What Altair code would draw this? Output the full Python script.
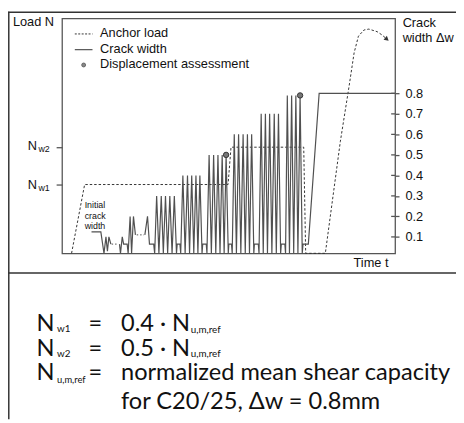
import altair as alt
import pandas as pd

# ---------------- data (schematic units) ----------------
# time t: schematic units 0..339 ; load: fraction of plot height ; crack width: mm
N_W1 = 0.293
N_W2 = 0.452

load_t = [9.7, 23, 169, 172, 246, 248, 268, 283.3, 292.3, 297.3, 301.7, 307.3, 312.3, 320.7, 325.7, 330.7]
load_v = [0, N_W1, N_W1, N_W2, N_W2, 0, 0, 0.477, 0.715, 0.854, 0.925, 0.951, 0.955, 0.944, 0.930, 0.912]

crack_seg_a = [(30, 0.125), (39.5, 0.125), (42.7, 0.02), (44.7, 0.1), (46.2, 0.03), (47.7, 0.1), (49.7, 0.065)]
crack_seg_b = [(58.5, 0.065), (59.5, 0.02), (61.3, 0.1), (62.7, 0.065), (66.3, 0.065), (67.3, 0.02),
               (69.3, 0.2), (70.8, 0.02), (72.7, 0.2), (74.7, 0.11)]
crack_seg_c = [(84.3, 0.11), (87, 0.2), (89, 0.065), (93.3, 0.065), (94.3, 0.02),
               (96.3, 0.3), (98.6, 0.02), (101, 0.3), (103.1, 0.02), (105.3, 0.3), (107.5, 0.02),
               (109.7, 0.3), (112, 0.02), (114.3, 0.3), (116.5, 0.02), (117.2, 0.065), (120, 0.065), (120.8, 0.02),
               (123, 0.4), (125.3, 0.02), (127.7, 0.4), (129.8, 0.02), (132, 0.4), (134.1, 0.02),
               (136.3, 0.4), (138.3, 0.02), (140.3, 0.4), (142.5, 0.02), (143.2, 0.065), (146.8, 0.065), (147.5, 0.02),
               (149.7, 0.5), (152, 0.02), (154.3, 0.5), (156.5, 0.02), (158.7, 0.5), (160.8, 0.02),
               (163, 0.5), (165, 0.02), (167, 0.5), (169.2, 0.02), (169.8, 0.065), (172.5, 0.065), (173.2, 0.02),
               (175.3, 0.6), (177.5, 0.02), (179.7, 0.6), (182, 0.02), (184.3, 0.6), (186.5, 0.02),
               (188.7, 0.6), (190.8, 0.02), (193, 0.6), (195.2, 0.02), (195.8, 0.065), (199.8, 0.065), (200.5, 0.02),
               (202.7, 0.7), (204.8, 0.02), (207, 0.7), (209.1, 0.02), (211.3, 0.7), (213.6, 0.02),
               (216, 0.7), (218.1, 0.02), (220.3, 0.7), (222.5, 0.02), (223.2, 0.065), (226.8, 0.065), (227.5, 0.02),
               (229.3, 0.79), (231.5, 0.02), (233.7, 0.79), (235.8, 0.02), (238, 0.79), (240.1, 0.02),
               (242.3, 0.79), (244.5, 0.02), (245.3, 0.065), (250.7, 0.065), (261.7, 0.8), (339, 0.8)]
crack_dots_1 = [(50.5, 0.065), (57.5, 0.065)]
crack_dots_2 = [(76, 0.11), (83.5, 0.11)]

assess_t = [167, 242.3]
assess_w = [0.5, 0.79]

crack_ticks = [0.1, 0.2, 0.3, 0.4, 0.5, 0.6, 0.7, 0.8]

# ---------------- tables ----------------
load_df = pd.DataFrame({"t": load_t, "load": load_v, "o": range(len(load_t))})


def seg_df(segs):
    rows = []
    for si, seg in enumerate(segs):
        for oi, (t, w) in enumerate(seg):
            rows.append({"t": t, "w": w, "seg": si, "o": oi})
    return pd.DataFrame(rows)


crack_df = seg_df([crack_seg_a, crack_seg_b, crack_seg_c])
dots_df = seg_df([crack_dots_1, crack_dots_2])
assess_df = pd.DataFrame({"t": assess_t, "w": assess_w})
arrow_df = pd.DataFrame({"t": [load_t[-1]], "load": [load_v[-1]]})
ticks_df = pd.DataFrame({"w": crack_ticks})

XS = alt.Scale(domain=[0, 339], nice=False)
LS = alt.Scale(domain=[0, 1], nice=False, zero=False)
CS = alt.Scale(domain=[0.02, 1.165], nice=False, zero=False)
GRAY = "#505050"
DARK = "#333333"
AX = "#555555"

anchor = alt.Chart(load_df).mark_line(color=DARK, strokeWidth=1, strokeDash=[2.5, 2]).encode(
    x=alt.X("t:Q", scale=XS, axis=None),
    y=alt.Y("load:Q", scale=LS, axis=alt.Axis(orient="left", values=[N_W1, N_W2], labels=False,
                                              title=None, domain=False, grid=False, tickSize=6,
                                              tickColor=AX, tickWidth=1.3)),
    order=alt.Order("o:Q"),
)

arrow = alt.Chart(arrow_df).mark_point(shape="triangle-right", filled=True, color=DARK, size=28,
                                       angle=40, opacity=1).encode(
    x=alt.X("t:Q", scale=XS, axis=None),
    y=alt.Y("load:Q", scale=LS, axis=None),
)

crack = alt.Chart(crack_df).mark_line(color=GRAY, strokeWidth=1.2).encode(
    x=alt.X("t:Q", scale=XS, axis=None),
    y=alt.Y("w:Q", scale=CS, axis=alt.Axis(orient="right", values=crack_ticks, format=".1f", title=None,
                                           domain=False, grid=False, tickSize=4, tickColor=AX,
                                           tickWidth=1.3, labelFont="Liberation Sans", labelFontSize=13,
                                           labelColor="#111", labelPadding=6)),
    detail="seg:N",
    order=alt.Order("o:Q"),
)

crack_dotted = alt.Chart(dots_df).mark_line(color=GRAY, strokeWidth=1, strokeDash=[1.5, 2]).encode(
    x=alt.X("t:Q", scale=XS, axis=None),
    y=alt.Y("w:Q", scale=CS, axis=None),
    detail="seg:N",
    order=alt.Order("o:Q"),
)

assess = alt.Chart(assess_df).mark_point(filled=True, fill="#777777", stroke=DARK, strokeWidth=1,
                                         size=30, opacity=1).encode(
    x=alt.X("t:Q", scale=XS, axis=None),
    y=alt.Y("w:Q", scale=CS, axis=None),
)

inner_ticks = alt.Chart(ticks_df).mark_rule(color=AX, strokeWidth=1.3).encode(
    x=alt.value(335), x2=alt.value(339),
    y=alt.Y("w:Q", scale=CS, axis=None),
)

# ---------------- annotation texts ----------------
chart_texts = pd.DataFrame([
    {"text": "Load N", "px": -50, "py": 7.7, "fs": 13},
    {"text": "Anchor load", "px": 38.7, "py": 19.3, "fs": 13},
    {"text": "Crack width", "px": 38.7, "py": 35, "fs": 13},
    {"text": "Displacement assessment", "px": 38.7, "py": 50.7, "fs": 13},
    {"text": "Crack", "px": 346.7, "py": 9, "fs": 13},
    {"text": "width \u0394w", "px": 346.7, "py": 24.3, "fs": 13},
    {"text": "Initial", "px": 23, "py": 193.3, "fs": 9},
    {"text": "crack", "px": 23, "py": 204.3, "fs": 9},
    {"text": "width", "px": 23, "py": 214.3, "fs": 9},
    {"text": "N", "px": -35, "py": 134.3, "fs": 13},
    {"text": "w2", "px": -24, "py": 136.3, "fs": 9},
    {"text": "N", "px": -35, "py": 173.3, "fs": 13},
    {"text": "w1", "px": -24, "py": 175.3, "fs": 9},
])
time_text = pd.DataFrame([{"text": "Time t", "px": 332.3, "py": 253.3, "fs": 13}])

formula_left = pd.DataFrame([
    {"text": "N", "px": -26, "py": 318, "fs": 24},
    {"text": "w1", "px": -5, "py": 319.5, "fs": 10},
    {"text": "0.4 \u00b7 N", "px": 60, "py": 318, "fs": 24},
    {"text": "u,m,ref", "px": 131, "py": 320, "fs": 10},
    {"text": "N", "px": -26, "py": 343, "fs": 24},
    {"text": "w2", "px": -5, "py": 344.5, "fs": 10},
    {"text": "0.5 \u00b7 N", "px": 60, "py": 343, "fs": 24},
    {"text": "u,m,ref", "px": 131, "py": 345, "fs": 10},
    {"text": "N", "px": -26, "py": 368, "fs": 24},
    {"text": "u,m,ref", "px": -5, "py": 370.5, "fs": 9.5},
    {"text": "normalized mean shear capacity", "px": 60, "py": 368, "fs": 24},
    {"text": "for C20/25, \u0394w = 0.8mm", "px": 60, "py": 397, "fs": 24},
])
formula_eq = pd.DataFrame([
    {"text": "=", "px": 34, "py": 318, "fs": 24},
    {"text": "=", "px": 34, "py": 343, "fs": 24},
    {"text": "=", "px": 34, "py": 368, "fs": 24},
])


def text_layer(df, font, align="left"):
    return alt.Chart(df).mark_text(font=font, align=align, baseline="alphabetic", color="#111111").encode(
        x=alt.X("px:Q", scale=None, axis=None),
        y=alt.Y("py:Q", scale=None, axis=None),
        text="text:N",
        size=alt.Size("fs:Q", scale=None, legend=None),
    )


# ---------------- frame & legend samples ----------------
hrules = pd.DataFrame([
    {"x": -55, "x2": 401, "y": -6.3},
    {"x": -55, "x2": 401, "y": 259},
])
vrules = pd.DataFrame([{"x": -54.2, "y": -7, "y2": 408}])

frame_h = alt.Chart(hrules).mark_rule(color=DARK, strokeWidth=1.5).encode(
    x=alt.X("x:Q", scale=None, axis=None), x2="x2:Q", y=alt.Y("y:Q", scale=None, axis=None))
frame_v = alt.Chart(vrules).mark_rule(color=DARK, strokeWidth=1.5).encode(
    x=alt.X("x:Q", scale=None, axis=None), y=alt.Y("y:Q", scale=None, axis=None), y2="y2:Q")

leg_dash = alt.Chart(pd.DataFrame([{"x": 13, "x2": 31, "y": 15.7}])).mark_rule(
    color=DARK, strokeWidth=1, strokeDash=[2, 1.5]).encode(
    x=alt.X("x:Q", scale=None, axis=None), x2="x2:Q", y=alt.Y("y:Q", scale=None, axis=None))
leg_solid = alt.Chart(pd.DataFrame([{"x": 13, "x2": 31, "y": 31.7}])).mark_rule(
    color=GRAY, strokeWidth=1.2).encode(
    x=alt.X("x:Q", scale=None, axis=None), x2="x2:Q", y=alt.Y("y:Q", scale=None, axis=None))
leg_dot = alt.Chart(pd.DataFrame([{"x": 22, "y": 47.3}])).mark_point(
    filled=True, fill="#888888", stroke="#555555", strokeWidth=0.8, size=16, opacity=1).encode(
    x=alt.X("x:Q", scale=None, axis=None), y=alt.Y("y:Q", scale=None, axis=None))

chart = alt.layer(
    anchor, crack, crack_dotted, assess, arrow, inner_ticks,
    frame_h, frame_v, leg_dash, leg_solid, leg_dot,
    text_layer(chart_texts, "Liberation Sans"),
    text_layer(time_text, "Liberation Sans", align="right"),
    text_layer(formula_left, "Lato"),
    text_layer(formula_eq, "Lato", align="center"),
).resolve_scale(x="independent", y="independent").properties(
    width=339, height=239,
    autosize=alt.AutoSizeParams(type="none"),
    padding={"left": 55, "top": 7, "right": 62, "bottom": 169},
    background="white",
).configure_view(stroke=AX, strokeWidth=1.3)

chart.save("out.html", embed_options={"renderer": "svg", "actions": False})
